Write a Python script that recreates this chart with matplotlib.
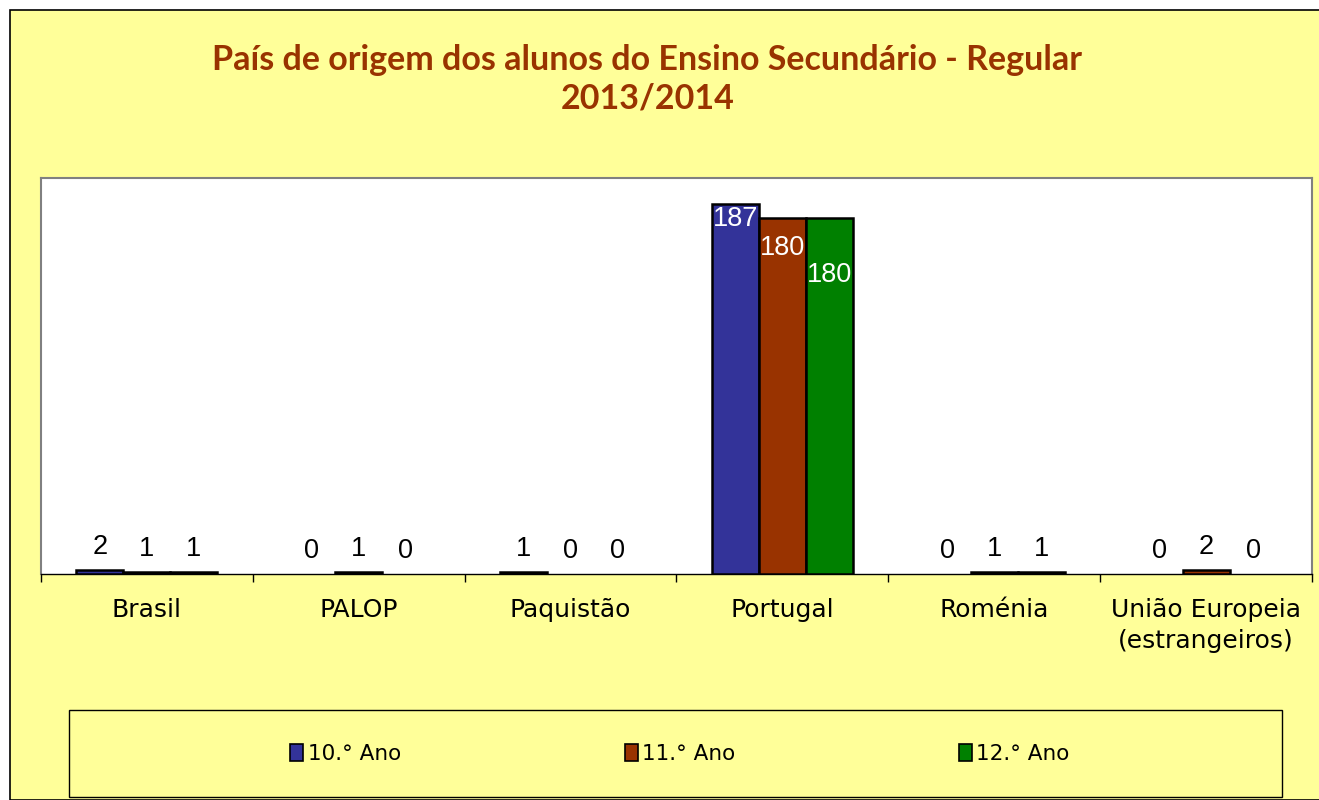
import numpy as np
import matplotlib
matplotlib.use("Agg")
import matplotlib.pyplot as plt
from matplotlib.patches import Rectangle

categories = ["Brasil", "PALOP", "Paquistão", "Portugal", "Roménia",
              "União Europeia\n(estrangeiros)"]
series_names = ["10.° Ano", "11.° Ano", "12.° Ano"]
ano10 = [2, 0, 1, 187, 0, 0]
ano11 = [1, 1, 0, 180, 1, 2]
ano12 = [1, 0, 0, 180, 1, 0]

colors = ["#333399", "#993300", "#008000"]
bg = "#FFFF99"
W, H = 1319, 800

fig = plt.figure(figsize=(W / 100, H / 100), dpi=100, facecolor="white")
# outer chart area
fig.patches.append(Rectangle((10 / W, 0), 1.0, 1 - 10 / H, transform=fig.transFigure,
                             facecolor=bg, edgecolor="black", linewidth=1.2, zorder=-5))

ax = fig.add_axes([41 / W, 1 - 574 / H, (1312 - 41) / W, (574 - 178) / H])
ax.set_facecolor("white")
ax.set_zorder(2)

x = np.arange(len(categories))
width = 0.222
inside_offsets = [-15, -30, -57]  # px below bar top for big bars
for i, (vals, name, col) in enumerate(zip([ano10, ano11, ano12], series_names, colors)):
    pos = x + (i - 1) * width
    lw = [1.8 if v > 0 else 0 for v in vals]
    ax.bar(pos, vals, width, color=col, edgecolor="black", linewidth=lw,
           label=name, zorder=3)
    for xp, v in zip(pos, vals):
        if v > 50:
            ax.annotate(str(v), (xp, v), xytext=(0, inside_offsets[i] * 0.72),
                        textcoords="offset points", ha="center", va="center",
                        color="white", fontsize=19.5, family="Liberation Sans")
        else:
            ax.annotate(str(v), (xp, v), xytext=(0, 16.5),
                        textcoords="offset points", ha="center", va="center",
                        color="black", fontsize=19.5, family="Liberation Sans")

ax.set_xlim(-0.5, len(categories) - 0.5)
ax.set_ylim(0, 200)
ax.set_yticks([])
ax.set_xticks(x)
ax.set_xticklabels(categories, fontsize=18, family="DejaVu Sans", linespacing=1.4)
ax.tick_params(axis="x", which="major", length=0, pad=17)
ax.set_xticks(np.arange(len(categories) + 1) - 0.5, minor=True)
ax.tick_params(axis="x", which="minor", length=6, width=1, direction="out")
for s in ["top", "left", "right"]:
    ax.spines[s].set_color("#808080")
    ax.spines[s].set_linewidth(1.5)
ax.spines["bottom"].set_color("black")
ax.spines["bottom"].set_linewidth(1)

fig.text(647.5 / W, 1 - 60 / H, "País de origem dos alunos do Ensino Secundário - Regular",
         ha="center", va="center", fontsize=24.5, fontweight="bold", color="#993300",
         family="Lato")
fig.text(647.5 / W, 1 - 99 / H, "2013/2014",
         ha="center", va="center", fontsize=24.5, fontweight="bold", color="#993300",
         family="Lato")

# legend box
fig.patches.append(Rectangle((69 / W, 1 - 797 / H), (1282 - 69) / W, (797 - 710) / H,
                             transform=fig.transFigure, facecolor=bg,
                             edgecolor="black", linewidth=1, zorder=-4))
handles, labels = ax.get_legend_handles_labels()
leg = fig.legend(handles, labels, loc="center", bbox_to_anchor=(680 / W, 1 - 754 / H),
                 ncol=3, frameon=False, fontsize=15.5, handlelength=0.6, handleheight=0.8,
                 handletextpad=0.2, columnspacing=10.4)
for h in leg.legend_handles:
    h.set_linewidth(1.2)

fig.savefig("out.png", dpi=100, facecolor="white")
